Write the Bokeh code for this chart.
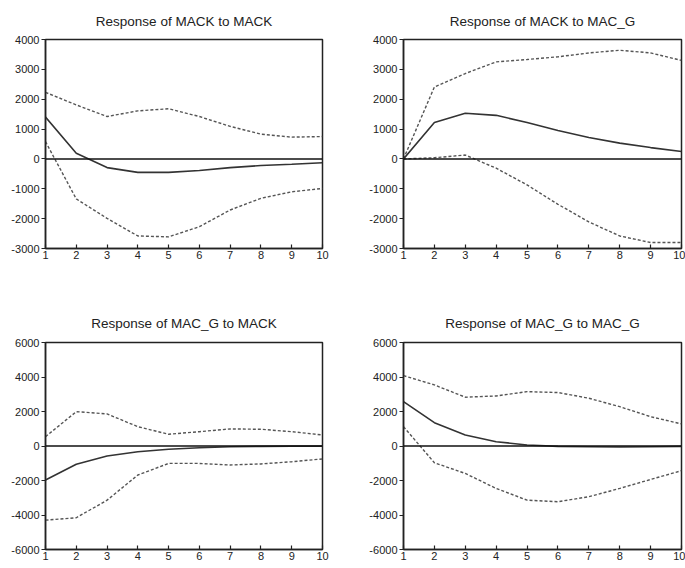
from bokeh.plotting import figure
from bokeh.layouts import column, row
from bokeh.models import Span, FixedTicker, Title
from bokeh.embed import file_html
from bokeh.resources import INLINE

periods = [1, 2, 3, 4, 5, 6, 7, 8, 9, 10]

# Response of MACK to MACK
mack_mack = [1400, 190, -290, -450, -450, -390, -290, -220, -180, -130]
mack_mack_up = [2230, 1810, 1420, 1610, 1680, 1420, 1090, 830, 730, 750]
mack_mack_lo = [580, -1340, -1990, -2580, -2610, -2270, -1710, -1320, -1100, -990]

# Response of MACK to MAC_G
mack_macg = [0, 1220, 1530, 1460, 1220, 950, 720, 530, 380, 250]
mack_macg_up = [0, 2410, 2860, 3250, 3330, 3420, 3550, 3640, 3550, 3300]
mack_macg_lo = [0, 40, 130, -310, -870, -1520, -2110, -2580, -2800, -2800]

# Response of MAC_G to MACK
macg_mack = [-1970, -1060, -580, -330, -190, -100, -40, -20, -10, -10]
macg_mack_up = [540, 1990, 1860, 1120, 680, 830, 990, 970, 830, 640]
macg_mack_lo = [-4300, -4160, -3140, -1680, -1010, -1010, -1100, -1040, -910, -750]

# Response of MAC_G to MAC_G
macg_macg = [2570, 1350, 640, 250, 60, -20, -40, -60, -40, -20]
macg_macg_up = [4080, 3540, 2830, 2900, 3150, 3100, 2770, 2280, 1700, 1280]
macg_macg_lo = [1120, -970, -1590, -2460, -3140, -3230, -2940, -2460, -1940, -1430]

titles = ["Response of MACK to MACK", "Response of MACK to MAC_G",
          "Response of MAC_G to MACK", "Response of MAC_G to MAC_G"]

top_ticks = [-3000, -2000, -1000, 0, 1000, 2000, 3000, 4000]
bottom_ticks = [-6000, -4000, -2000, 0, 2000, 4000, 6000]

FONT = "Liberation Sans"


def panel(title, mid, up, lo, yticks, w, h, bl, br, bt, bb, standoff):
    p = figure(width=w, height=h, output_backend="svg", toolbar_location=None,
               x_range=(1, 10), y_range=(yticks[0], yticks[-1]),
               min_border_left=bl, min_border_right=br,
               min_border_top=bt, min_border_bottom=bb)
    p.title = Title(text=title, align="center", text_font=FONT,
                    text_font_size="13.5px", text_font_style="normal",
                    text_color="#222222", standoff=standoff)
    p.xgrid.visible = False
    p.ygrid.visible = False
    p.outline_line_color = "#222222"
    p.outline_line_width = 1.5
    p.background_fill_color = "white"
    p.border_fill_color = "white"

    p.xaxis.ticker = FixedTicker(ticks=periods)
    p.yaxis.ticker = FixedTicker(ticks=yticks)
    p.yaxis.major_label_overrides = {t: str(t) for t in yticks}
    for ax in (p.xaxis[0], p.yaxis[0]):
        ax.axis_line_color = "#222222"
        ax.axis_line_width = 1.5
        ax.major_tick_line_color = "#222222"
        ax.major_tick_line_width = 1.2
        ax.minor_tick_line_color = None
        ax.major_label_text_font = FONT
        ax.major_label_text_font_size = "11px"
        ax.major_label_text_color = "#222222"
    p.xaxis.major_tick_in = 4
    p.xaxis.major_tick_out = 0
    p.xaxis.major_label_standoff = 2
    p.yaxis.major_tick_in = 0
    p.yaxis.major_tick_out = 4
    p.yaxis.major_label_standoff = 2

    p.add_layout(Span(location=0, dimension="width", line_color="#111111",
                      line_width=1.5))
    p.line(periods, up, line_color="#555555", line_width=1.4, line_dash="3 2")
    p.line(periods, lo, line_color="#555555", line_width=1.4, line_dash="3 2")
    p.line(periods, mid, line_color="#333333", line_width=1.6)
    return p


p1 = panel(titles[0], mack_mack, mack_mack_up, mack_mack_lo, top_ticks,
           342, 301, 45, 20, 0, 53, 22)
p2 = panel(titles[1], mack_macg, mack_macg_up, mack_macg_lo, top_ticks,
           343, 301, 61, 4, 0, 53, 22)
p3 = panel(titles[2], macg_mack, macg_mack_up, macg_mack_lo, bottom_ticks,
           342, 267, 45, 20, 0, 19, 24)
p4 = panel(titles[3], macg_macg, macg_macg_up, macg_macg_lo, bottom_ticks,
           343, 267, 61, 4, 0, 19, 24)

layout = column(row(p1, p2), row(p3, p4))
open("out.html", "w").write(file_html(layout, INLINE))
